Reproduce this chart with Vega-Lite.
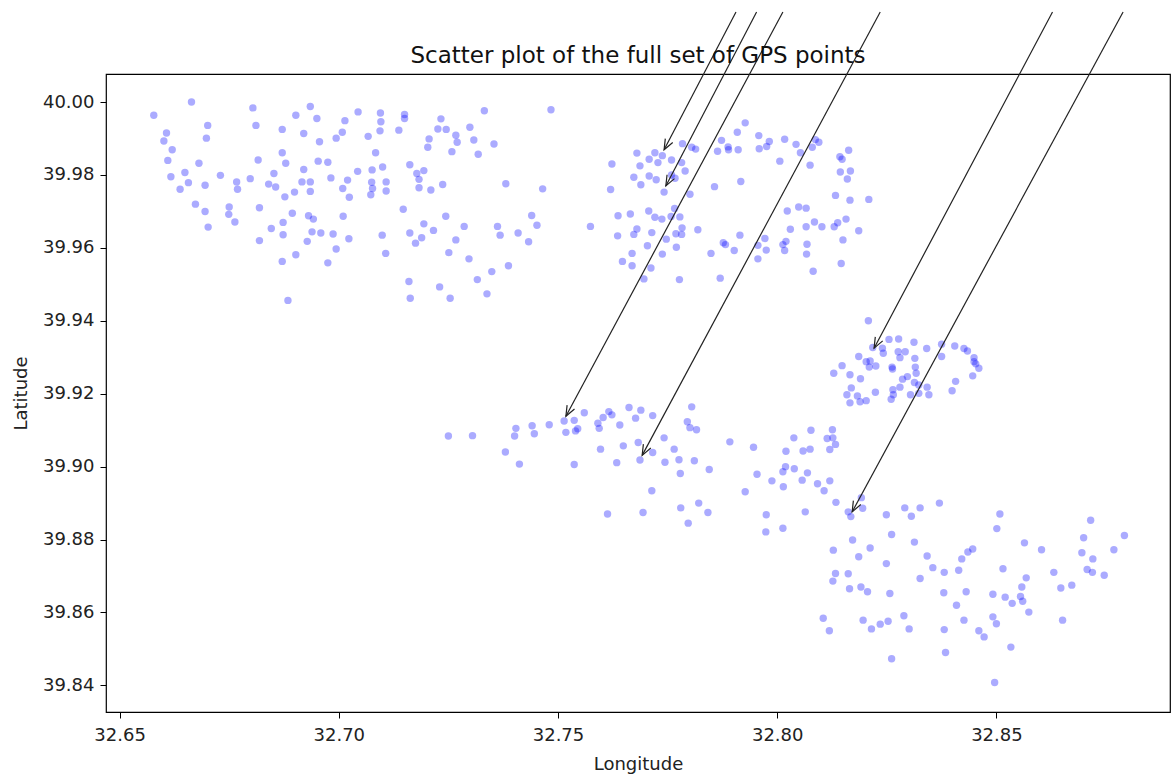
{
"$schema":"https://vega.github.io/schema/vega-lite/v6.json",
"width":1064,"height":638,
"autosize":{"type":"none"},
"padding":{"left":106,"top":74,"right":2,"bottom":63},
"background":"white",
"title":{"text":"Scatter plot of the full set of GPS points","anchor":"middle","frame":"group","fontSize":23,"font":"DejaVu Sans","fontWeight":"normal","color":"#111","offset":-57},
"config":{"view":{"stroke":"#000","strokeWidth":1.2},"font":"DejaVu Sans",
"axis":{"grid":false,"domain":false,"tickColor":"#000","tickSize":6,"tickWidth":1,"labelFontSize":18,"labelColor":"#222","labelFont":"DejaVu Sans","titleFontSize":18,"titleFontWeight":"normal","titleColor":"#222","titleFont":"DejaVu Sans"},
"axisX":{"labelPadding":8,"titlePadding":11},
"axisY":{"labelPadding":6,"titlePadding":12}},
"datasets":{
"pts":[
{"lon":32.6578,"lat":39.9964},{"lon":32.6664,"lat":40.0},{"lon":32.6804,"lat":39.9984},{"lon":32.6935,"lat":39.9988},{"lon":32.6902,"lat":39.9964},{"lon":32.695,"lat":39.9955},{"lon":32.6701,"lat":39.9936},{"lon":32.6811,"lat":39.9936},{"lon":32.6607,"lat":39.9915},{"lon":32.6601,"lat":39.9893},
{"lon":32.6698,"lat":39.9901},{"lon":32.662,"lat":39.9869},{"lon":32.661,"lat":39.984},{"lon":32.6681,"lat":39.9832},{"lon":32.6649,"lat":39.9807},{"lon":32.6617,"lat":39.9795},{"lon":32.6657,"lat":39.9779},{"lon":32.6638,"lat":39.9761},{"lon":32.6695,"lat":39.9772},{"lon":32.673,"lat":39.9799},
{"lon":32.6767,"lat":39.9781},{"lon":32.6769,"lat":39.9761},{"lon":32.6798,"lat":39.979},{"lon":32.6673,"lat":39.972},{"lon":32.6695,"lat":39.97},{"lon":32.6702,"lat":39.9657},{"lon":32.675,"lat":39.9712},{"lon":32.6749,"lat":39.9692},{"lon":32.6763,"lat":39.9671},{"lon":32.6816,"lat":39.9841},
{"lon":32.6819,"lat":39.971},{"lon":32.6819,"lat":39.962},{"lon":32.6871,"lat":39.9925},{"lon":32.6871,"lat":39.9861},{"lon":32.6879,"lat":39.9832},{"lon":32.692,"lat":39.9914},{"lon":32.6956,"lat":39.9891},{"lon":32.6852,"lat":39.9804},{"lon":32.684,"lat":39.9775},{"lon":32.6856,"lat":39.9767},
{"lon":32.6877,"lat":39.974},{"lon":32.6899,"lat":39.9753},{"lon":32.692,"lat":39.9815},{"lon":32.6916,"lat":39.9781},{"lon":32.6935,"lat":39.9781},{"lon":32.6935,"lat":39.9755},{"lon":32.6953,"lat":39.9838},{"lon":32.6975,"lat":39.9835},{"lon":32.6982,"lat":39.9792},{"lon":32.6894,"lat":39.9695},
{"lon":32.6873,"lat":39.967},{"lon":32.6846,"lat":39.9653},{"lon":32.6873,"lat":39.9636},{"lon":32.6931,"lat":39.9688},{"lon":32.6942,"lat":39.9679},{"lon":32.6939,"lat":39.9644},{"lon":32.6959,"lat":39.9641},{"lon":32.6928,"lat":39.9618},{"lon":32.6987,"lat":39.9638},{"lon":32.6994,"lat":39.9597},
{"lon":32.6902,"lat":39.9581},{"lon":32.6871,"lat":39.9563},{"lon":32.6975,"lat":39.9559},{"lon":32.6884,"lat":39.9456},{"lon":32.7014,"lat":39.9949},{"lon":32.7008,"lat":39.9917},{"lon":32.6994,"lat":39.9901},{"lon":32.7044,"lat":39.9973},{"lon":32.7067,"lat":39.9906},{"lon":32.7095,"lat":39.997},
{"lon":32.7096,"lat":39.9946},{"lon":32.7094,"lat":39.9921},{"lon":32.7137,"lat":39.9923},{"lon":32.715,"lat":39.9966},{"lon":32.715,"lat":39.9955},{"lon":32.7084,"lat":39.9861},{"lon":32.7076,"lat":39.9814},{"lon":32.71,"lat":39.9822},{"lon":32.7043,"lat":39.981},{"lon":32.702,"lat":39.9786},
{"lon":32.7009,"lat":39.9763},{"lon":32.7024,"lat":39.9739},{"lon":32.7075,"lat":39.978},{"lon":32.7077,"lat":39.9763},{"lon":32.7073,"lat":39.9746},{"lon":32.7108,"lat":39.9781},{"lon":32.7108,"lat":39.9756},{"lon":32.701,"lat":39.9687},{"lon":32.7023,"lat":39.9625},{"lon":32.7099,"lat":39.9635},
{"lon":32.7107,"lat":39.9585},{"lon":32.7147,"lat":39.9706},{"lon":32.7162,"lat":39.9828},{"lon":32.7178,"lat":39.9804},{"lon":32.7183,"lat":39.9788},{"lon":32.7194,"lat":39.9812},{"lon":32.7183,"lat":39.9765},{"lon":32.721,"lat":39.9759},{"lon":32.7237,"lat":39.9774},{"lon":32.7206,"lat":39.9899},
{"lon":32.7203,"lat":39.9876},{"lon":32.7233,"lat":39.9954},{"lon":32.7226,"lat":39.9926},{"lon":32.7245,"lat":39.9925},{"lon":32.7267,"lat":39.9909},{"lon":32.727,"lat":39.989},{"lon":32.7258,"lat":39.9864},{"lon":32.7299,"lat":39.9931},{"lon":32.7308,"lat":39.9896},{"lon":32.7318,"lat":39.9857},
{"lon":32.7332,"lat":39.9976},{"lon":32.7354,"lat":39.9885},{"lon":32.7381,"lat":39.9776},{"lon":32.7465,"lat":39.9762},{"lon":32.7484,"lat":39.9979},{"lon":32.7244,"lat":39.9687},{"lon":32.7194,"lat":39.9666},{"lon":32.7216,"lat":39.9648},{"lon":32.7162,"lat":39.9641},{"lon":32.7189,"lat":39.9628},
{"lon":32.7175,"lat":39.9613},{"lon":32.7286,"lat":39.9659},{"lon":32.7267,"lat":39.9622},{"lon":32.7251,"lat":39.9587},{"lon":32.7297,"lat":39.957},{"lon":32.7362,"lat":39.9659},{"lon":32.7368,"lat":39.9635},{"lon":32.7409,"lat":39.9641},{"lon":32.7433,"lat":39.9617},{"lon":32.744,"lat":39.9689},
{"lon":32.7452,"lat":39.9662},{"lon":32.7387,"lat":39.9551},{"lon":32.7349,"lat":39.9535},{"lon":32.7316,"lat":39.9513},{"lon":32.7338,"lat":39.9474},{"lon":32.716,"lat":39.9508},{"lon":32.7163,"lat":39.9462},{"lon":32.723,"lat":39.9493},{"lon":32.7254,"lat":39.9462},
{"lon":32.7927,"lat":39.9943},{"lon":32.7909,"lat":39.9917},{"lon":32.7873,"lat":39.9895},{"lon":32.7888,"lat":39.9877},{"lon":32.7889,"lat":39.9869},{"lon":32.7864,"lat":39.9865},{"lon":32.7911,"lat":39.9869},{"lon":32.7958,"lat":39.9908},{"lon":32.7982,"lat":39.9892},{"lon":32.7976,"lat":39.9878},
{"lon":32.7959,"lat":39.9872},{"lon":32.8017,"lat":39.9898},{"lon":32.8043,"lat":39.9884},{"lon":32.8087,"lat":39.9897},{"lon":32.8095,"lat":39.989},{"lon":32.808,"lat":39.9876},{"lon":32.8053,"lat":39.9861},{"lon":32.8006,"lat":39.9838},{"lon":32.8075,"lat":39.9827},{"lon":32.8143,"lat":39.985},
{"lon":32.8148,"lat":39.9843},{"lon":32.8163,"lat":39.9868},{"lon":32.8144,"lat":39.9808},{"lon":32.8167,"lat":39.9811},{"lon":32.816,"lat":39.9789},{"lon":32.8133,"lat":39.9744},{"lon":32.8166,"lat":39.9731},{"lon":32.8209,"lat":39.9733},{"lon":32.7784,"lat":39.9886},{"lon":32.7805,"lat":39.9876},
{"lon":32.7814,"lat":39.9871},{"lon":32.768,"lat":39.986},{"lon":32.7721,"lat":39.9861},{"lon":32.7738,"lat":39.9853},{"lon":32.7708,"lat":39.9843},{"lon":32.7728,"lat":39.9834},{"lon":32.7759,"lat":39.9841},{"lon":32.7782,"lat":39.9834},{"lon":32.7623,"lat":39.983},{"lon":32.7687,"lat":39.9825},
{"lon":32.779,"lat":39.9811},{"lon":32.7759,"lat":39.98},{"lon":32.7767,"lat":39.9791},{"lon":32.7673,"lat":39.9794},{"lon":32.7708,"lat":39.9797},{"lon":32.7724,"lat":39.9787},{"lon":32.7689,"lat":39.9773},{"lon":32.7742,"lat":39.9753},{"lon":32.762,"lat":39.976},{"lon":32.7801,"lat":39.9747},
{"lon":32.7857,"lat":39.9768},{"lon":32.7917,"lat":39.9782},{"lon":32.7766,"lat":39.9708},{"lon":32.7707,"lat":39.9701},{"lon":32.7721,"lat":39.9684},{"lon":32.7737,"lat":39.9679},{"lon":32.7758,"lat":39.9686},{"lon":32.7778,"lat":39.9685},{"lon":32.7637,"lat":39.9688},{"lon":32.7665,"lat":39.9693},
{"lon":32.7574,"lat":39.9659},{"lon":32.768,"lat":39.9652},{"lon":32.7673,"lat":39.9637},{"lon":32.7636,"lat":39.9633},{"lon":32.7714,"lat":39.9642},{"lon":32.7783,"lat":39.9655},{"lon":32.7782,"lat":39.9637},{"lon":32.7769,"lat":39.9639},{"lon":32.7819,"lat":39.965},{"lon":32.7747,"lat":39.9624},
{"lon":32.777,"lat":39.9602},{"lon":32.7704,"lat":39.9606},{"lon":32.7669,"lat":39.9585},{"lon":32.7738,"lat":39.9583},{"lon":32.7647,"lat":39.9563},{"lon":32.7669,"lat":39.9551},{"lon":32.7712,"lat":39.9545},{"lon":32.7696,"lat":39.9515},{"lon":32.7777,"lat":39.9513},{"lon":32.787,"lat":39.9517},
{"lon":32.7849,"lat":39.9585},{"lon":32.7877,"lat":39.9614},{"lon":32.7882,"lat":39.9609},{"lon":32.7902,"lat":39.9593},{"lon":32.7915,"lat":39.9635},{"lon":32.7956,"lat":39.9607},{"lon":32.7972,"lat":39.9626},{"lon":32.7975,"lat":39.9594},{"lon":32.7956,"lat":39.957},{"lon":32.8013,"lat":39.9609},
{"lon":32.802,"lat":39.9618},{"lon":32.8017,"lat":39.9593},{"lon":32.8023,"lat":39.9701},{"lon":32.8049,"lat":39.9712},{"lon":32.8066,"lat":39.9709},{"lon":32.803,"lat":39.9651},{"lon":32.8066,"lat":39.9658},{"lon":32.8085,"lat":39.9671},{"lon":32.8102,"lat":39.9658},{"lon":32.813,"lat":39.9658},
{"lon":32.8138,"lat":39.9669},{"lon":32.8157,"lat":39.9679},{"lon":32.8186,"lat":39.9647},{"lon":32.815,"lat":39.9622},{"lon":32.8068,"lat":39.961},{"lon":32.8067,"lat":39.9583},{"lon":32.8146,"lat":39.9557},{"lon":32.8082,"lat":39.9536},
{"lon":32.8208,"lat":39.94},{"lon":32.8255,"lat":39.9349},{"lon":32.8277,"lat":39.935},{"lon":32.8312,"lat":39.9341},{"lon":32.8218,"lat":39.9327},{"lon":32.824,"lat":39.9325},{"lon":32.8242,"lat":39.9311},{"lon":32.8276,"lat":39.9315},{"lon":32.8292,"lat":39.9315},{"lon":32.828,"lat":39.9299},
{"lon":32.8314,"lat":39.9297},{"lon":32.8341,"lat":39.9324},{"lon":32.8375,"lat":39.9336},{"lon":32.8405,"lat":39.9331},{"lon":32.8426,"lat":39.9324},{"lon":32.8434,"lat":39.9317},{"lon":32.8375,"lat":39.9302},{"lon":32.8449,"lat":39.9299},{"lon":32.8449,"lat":39.9288},{"lon":32.8453,"lat":39.9282},
{"lon":32.846,"lat":39.927},{"lon":32.8186,"lat":39.9302},{"lon":32.8203,"lat":39.9288},{"lon":32.8212,"lat":39.929},{"lon":32.821,"lat":39.9273},{"lon":32.8225,"lat":39.9276},{"lon":32.8148,"lat":39.9277},{"lon":32.8129,"lat":39.9256},{"lon":32.8166,"lat":39.9252},{"lon":32.819,"lat":39.9241},
{"lon":32.8262,"lat":39.9273},{"lon":32.8263,"lat":39.9268},{"lon":32.8315,"lat":39.9273},{"lon":32.8317,"lat":39.9256},{"lon":32.8297,"lat":39.9247},{"lon":32.8286,"lat":39.924},{"lon":32.8446,"lat":39.9249},{"lon":32.8407,"lat":39.9234},{"lon":32.8313,"lat":39.9231},{"lon":32.8323,"lat":39.9224},
{"lon":32.8342,"lat":39.9218},{"lon":32.828,"lat":39.9218},{"lon":32.8264,"lat":39.9211},{"lon":32.8169,"lat":39.9216},{"lon":32.8159,"lat":39.9197},{"lon":32.8183,"lat":39.9194},{"lon":32.8224,"lat":39.9204},{"lon":32.8265,"lat":39.9197},{"lon":32.8304,"lat":39.9197},{"lon":32.8323,"lat":39.9201},
{"lon":32.8346,"lat":39.9197},{"lon":32.8399,"lat":39.9208},{"lon":32.8166,"lat":39.9175},{"lon":32.8189,"lat":39.9178},{"lon":32.8203,"lat":39.9181},{"lon":32.826,"lat":39.9185},
{"lon":32.725,"lat":39.9084},{"lon":32.7305,"lat":39.9085},{"lon":32.7404,"lat":39.9105},{"lon":32.7401,"lat":39.9084},{"lon":32.7441,"lat":39.9112},{"lon":32.7446,"lat":39.909},{"lon":32.748,"lat":39.9115},{"lon":32.7514,"lat":39.9125},{"lon":32.7537,"lat":39.9127},{"lon":32.7518,"lat":39.9094},
{"lon":32.754,"lat":39.9098},{"lon":32.7545,"lat":39.9104},{"lon":32.756,"lat":39.9148},{"lon":32.7591,"lat":39.9119},{"lon":32.7594,"lat":39.9105},{"lon":32.7603,"lat":39.9135},{"lon":32.7616,"lat":39.9151},{"lon":32.7623,"lat":39.9142},{"lon":32.7641,"lat":39.9114},{"lon":32.7662,"lat":39.9162},
{"lon":32.7689,"lat":39.9155},{"lon":32.7677,"lat":39.9133},{"lon":32.7716,"lat":39.914},{"lon":32.738,"lat":39.904},{"lon":32.7412,"lat":39.9007},{"lon":32.7537,"lat":39.9006},{"lon":32.7597,"lat":39.9048},{"lon":32.7649,"lat":39.9057},{"lon":32.7683,"lat":39.9066},{"lon":32.7634,"lat":39.9011},
{"lon":32.7687,"lat":39.9018},{"lon":32.7716,"lat":39.9039},{"lon":32.7714,"lat":39.8934},{"lon":32.7613,"lat":39.887},{"lon":32.7694,"lat":39.8874},
{"lon":32.7805,"lat":39.9164},{"lon":32.7795,"lat":39.9123},{"lon":32.7801,"lat":39.9107},{"lon":32.7816,"lat":39.9101},{"lon":32.7742,"lat":39.9079},{"lon":32.7765,"lat":39.9048},{"lon":32.7776,"lat":39.9019},{"lon":32.7744,"lat":39.9012},{"lon":32.7811,"lat":39.9016},{"lon":32.7779,"lat":39.8981},
{"lon":32.7845,"lat":39.8992},{"lon":32.7892,"lat":39.9068},{"lon":32.7946,"lat":39.9053},{"lon":32.7954,"lat":39.8979},{"lon":32.7927,"lat":39.8931},{"lon":32.7988,"lat":39.8961},{"lon":32.8013,"lat":39.8986},{"lon":32.8019,"lat":39.9},{"lon":32.8039,"lat":39.8994},{"lon":32.8014,"lat":39.8945},
{"lon":32.802,"lat":39.9042},{"lon":32.8038,"lat":39.9079},{"lon":32.8059,"lat":39.9043},{"lon":32.8075,"lat":39.9048},{"lon":32.8077,"lat":39.91},{"lon":32.8069,"lat":39.8983},{"lon":32.8057,"lat":39.8963},{"lon":32.8092,"lat":39.8953},{"lon":32.8107,"lat":39.8934},{"lon":32.812,"lat":39.8961},
{"lon":32.8114,"lat":39.9077},{"lon":32.8126,"lat":39.9101},{"lon":32.8127,"lat":39.9079},{"lon":32.8133,"lat":39.9061},{"lon":32.812,"lat":39.9047},{"lon":32.8134,"lat":39.8902},{"lon":32.8192,"lat":39.8915},{"lon":32.8195,"lat":39.8886},{"lon":32.8162,"lat":39.8876},{"lon":32.8168,"lat":39.8863},
{"lon":32.778,"lat":39.8887},{"lon":32.7821,"lat":39.89},{"lon":32.7842,"lat":39.8874},{"lon":32.7797,"lat":39.8845},{"lon":32.7975,"lat":39.8868},{"lon":32.7974,"lat":39.8821},{"lon":32.8013,"lat":39.8831},{"lon":32.8064,"lat":39.8876},{"lon":32.8172,"lat":39.8799},
{"lon":32.8249,"lat":39.8868},{"lon":32.8291,"lat":39.8887},{"lon":32.8306,"lat":39.8864},{"lon":32.8326,"lat":39.8887},{"lon":32.837,"lat":39.89},{"lon":32.8261,"lat":39.8814},{"lon":32.8313,"lat":39.8793},{"lon":32.8128,"lat":39.8771},{"lon":32.8212,"lat":39.8777},{"lon":32.8186,"lat":39.8753},
{"lon":32.8249,"lat":39.8734},{"lon":32.8342,"lat":39.8755},{"lon":32.8355,"lat":39.8723},{"lon":32.8381,"lat":39.871},{"lon":32.8414,"lat":39.8716},{"lon":32.8421,"lat":39.8747},{"lon":32.8435,"lat":39.8766},{"lon":32.8446,"lat":39.8774},{"lon":32.8133,"lat":39.8707},{"lon":32.8127,"lat":39.8686},
{"lon":32.8162,"lat":39.8706},{"lon":32.8165,"lat":39.8665},{"lon":32.8191,"lat":39.867},{"lon":32.8206,"lat":39.8657},{"lon":32.8257,"lat":39.8652},{"lon":32.8326,"lat":39.8693},{"lon":32.838,"lat":39.8654},{"lon":32.8431,"lat":39.8657},{"lon":32.8409,"lat":39.862},{"lon":32.8426,"lat":39.8579},
{"lon":32.8105,"lat":39.8584},{"lon":32.8119,"lat":39.855},{"lon":32.8196,"lat":39.8579},{"lon":32.8215,"lat":39.8555},{"lon":32.8235,"lat":39.8568},{"lon":32.8253,"lat":39.8576},{"lon":32.8289,"lat":39.8591},{"lon":32.8301,"lat":39.8555},{"lon":32.8381,"lat":39.8553},{"lon":32.8384,"lat":39.849},
{"lon":32.8261,"lat":39.8473},
{"lon":32.8508,"lat":39.887},{"lon":32.8501,"lat":39.883},{"lon":32.8564,"lat":39.8791},{"lon":32.8603,"lat":39.8772},{"lon":32.8715,"lat":39.8853},{"lon":32.8792,"lat":39.8811},{"lon":32.8699,"lat":39.8805},{"lon":32.8695,"lat":39.8764},{"lon":32.872,"lat":39.8747},{"lon":32.8768,"lat":39.8772},
{"lon":32.8707,"lat":39.8718},{"lon":32.8719,"lat":39.871},{"lon":32.8746,"lat":39.8702},{"lon":32.8515,"lat":39.872},{"lon":32.8631,"lat":39.871},{"lon":32.8568,"lat":39.8695},{"lon":32.8558,"lat":39.867},{"lon":32.8672,"lat":39.8675},{"lon":32.8647,"lat":39.8667},{"lon":32.8492,"lat":39.865},
{"lon":32.852,"lat":39.8642},{"lon":32.8536,"lat":39.8625},{"lon":32.8555,"lat":39.8644},{"lon":32.856,"lat":39.8631},{"lon":32.8574,"lat":39.8601},{"lon":32.8651,"lat":39.8579},{"lon":32.8492,"lat":39.8588},{"lon":32.85,"lat":39.8569},{"lon":32.846,"lat":39.855},{"lon":32.8472,"lat":39.8533},
{"lon":32.8533,"lat":39.8505},{"lon":32.8496,"lat":39.8408}
],
"arrows":[
{"lon0":32.7906,"lat0":40.0247,"lon1":32.7742,"lat1":39.9869},
{"lon0":32.7953,"lat0":40.0247,"lon1":32.7746,"lat1":39.977},
{"lon0":32.8013,"lat0":40.0247,"lon1":32.7518,"lat1":39.9138},
{"lon0":32.8235,"lat0":40.0247,"lon1":32.7692,"lat1":39.9031},
{"lon0":32.8628,"lat0":40.0247,"lon1":32.8221,"lat1":39.9325},
{"lon0":32.8789,"lat0":40.0247,"lon1":32.8171,"lat1":39.8876}
]},
"layer":[
{"data":{"name":"pts"},
"mark":{"type":"circle","size":55,"color":"#0000ff","opacity":0.33,"strokeWidth":0},
"encoding":{
"x":{"field":"lon","type":"quantitative","title":"Longitude","scale":{"domain":[32.6469,32.8896],"nice":false,"zero":false},"axis":{"values":[32.65,32.7,32.75,32.8,32.85],"format":".2f"}},
"y":{"field":"lat","type":"quantitative","title":"Latitude","scale":{"domain":[39.8327,40.0077],"nice":false,"zero":false},"axis":{"values":[39.84,39.86,39.88,39.9,39.92,39.94,39.96,39.98,40.0],"format":".2f"}}}},
{"data":{"name":"arrows"},
"mark":{"type":"rule","color":"#222","strokeWidth":1.2},
"encoding":{
"x":{"field":"lon0","type":"quantitative","title":"Longitude"},
"y":{"field":"lat0","type":"quantitative","title":"Latitude"},
"x2":{"field":"lon1"},"y2":{"field":"lat1"}}},
{"data":{"name":"arrows"},
"mark":{"type":"point","shape":"M -0.4 -1 L 0 0 L 0.4 -1","size":440,"filled":false,"color":"#222","strokeWidth":1.2,"opacity":1,"angle":28},
"encoding":{
"x":{"field":"lon1","type":"quantitative","title":"Longitude"},
"y":{"field":"lat1","type":"quantitative","title":"Latitude"}}}
]
}
